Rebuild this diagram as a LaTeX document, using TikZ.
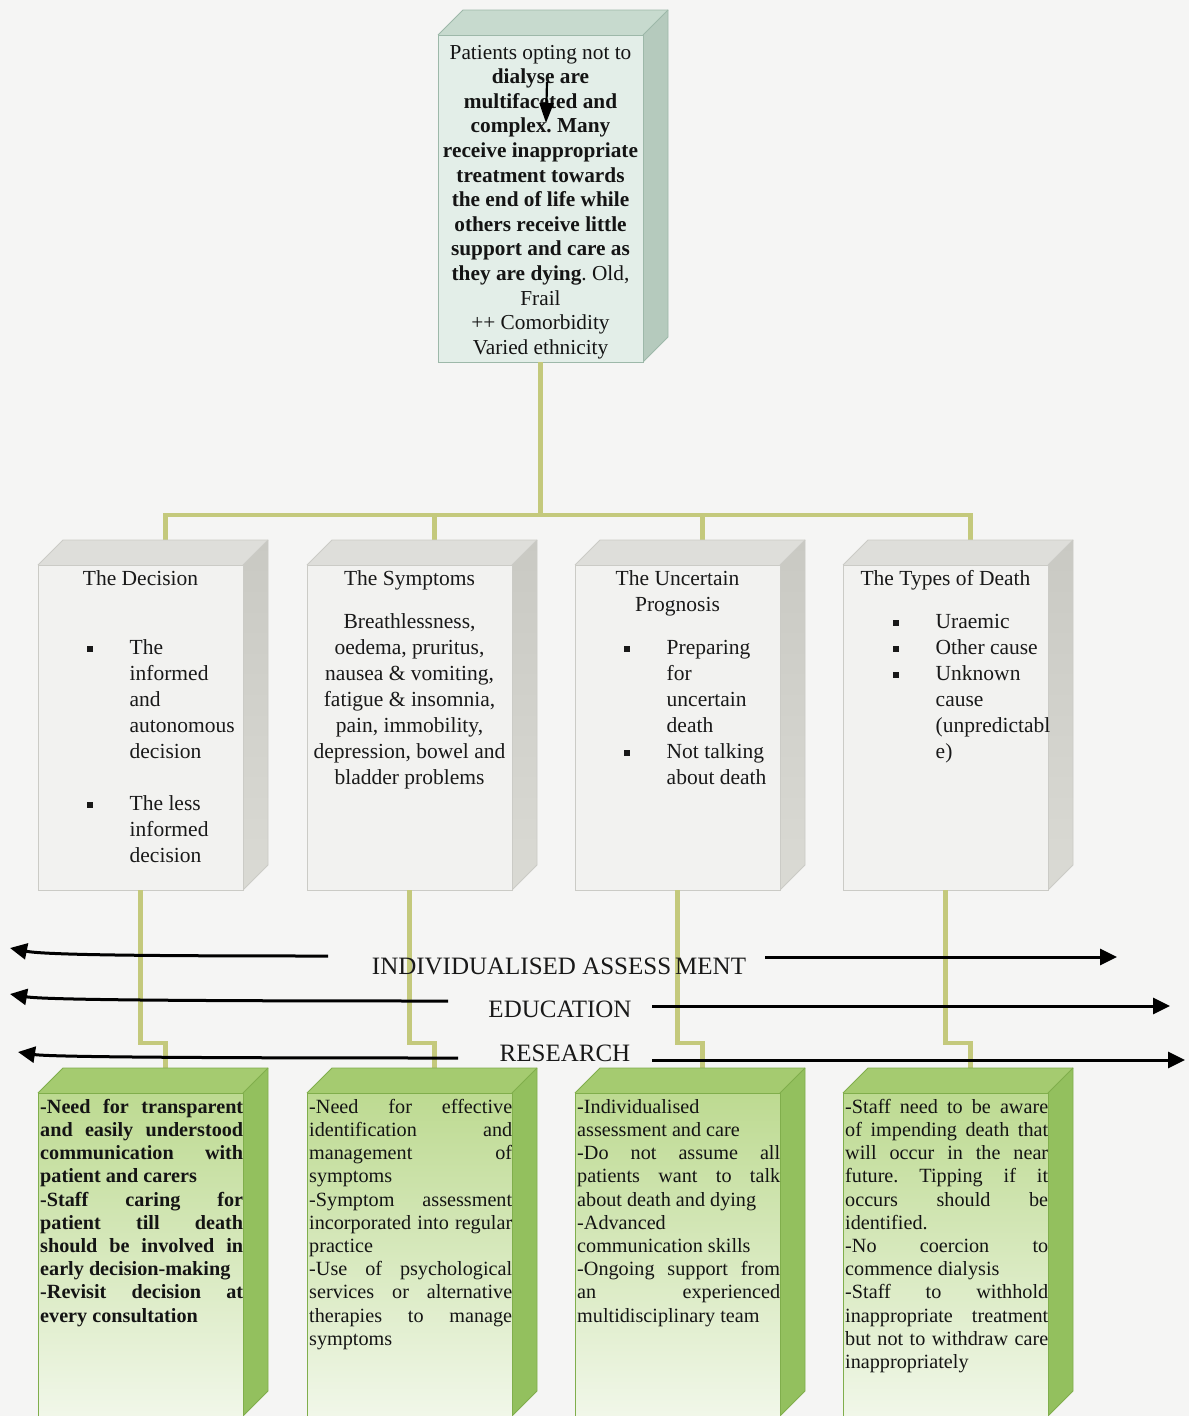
\documentclass[tikz,border=0pt]{standalone}
\usepackage{fontspec}
\setmainfont{Liberation Serif}
\usetikzlibrary{arrows.meta,calc}
\frenchspacing

\definecolor{bg}{HTML}{F5F5F4}
\definecolor{olive}{HTML}{C4C97C}
% mint (top box)
\definecolor{mntfront}{HTML}{E3EEE8}
\definecolor{mnttop}{HTML}{C7DACE}
\definecolor{mntside}{HTML}{B5CABD}
\definecolor{mntedge}{HTML}{9DB8A9}
% grey (middle row)
\definecolor{gryfront}{HTML}{F2F2F0}
\definecolor{grytop}{HTML}{DEDEDA}
\definecolor{grysideA}{HTML}{C9C9C3}
\definecolor{grysideB}{HTML}{DADAD4}
\definecolor{gryedge}{HTML}{CBCBC6}
% green (bottom row)
\definecolor{grnfrontA}{HTML}{BDDA91}
\definecolor{grnfrontB}{HTML}{F1F7E9}
\definecolor{grntop}{HTML}{A5CB70}
\definecolor{grnside}{HTML}{93C05E}
\definecolor{grnedge}{HTML}{80AE4C}

% a box drawn as a slab: #1 name, #2 colour family, #3 left, #4 top, #5 right, #6 bottom
\newcommand\cuboid[6]{%
  \path[#2side] (#5,#4) -- (#5+25,#4-25) -- (#5+25,#6-25) -- (#5,#6) -- cycle;
  \path[#2top] (#3,#4) -- (#3+25,#4-25) -- (#5+25,#4-25) -- (#5,#4) -- cycle;
  \draw[#2edge] (#3,#4) -- (#3+25,#4-25) -- (#5+25,#4-25) -- (#5+25,#6-25) -- (#5,#6);
  \draw[#2edge] (#5,#4) -- (#5+25,#4-25);
  \node[#2front, anchor=north west, minimum width={#5-#3}, minimum height={#6-#4}] (#1) at (#3,#4) {};
}
\newcommand\blt{\makebox[42.5pt][l]{\rule[2pt]{5.5pt}{6pt}}}
\newcommand\J[1]{\makebox[203pt][s]{#1}}

\begin{document}
\begin{tikzpicture}[x=1pt,y=-1pt,
  mntside/.style={fill=mntside},
  mnttop/.style={fill=mnttop},
  mntedge/.style={draw=mntedge,line width=0.8pt},
  mntfront/.style={fill=mntfront,draw=mntedge,line width=0.8pt,inner sep=0,outer sep=0},
  gryside/.style={top color=grysideA,bottom color=grysideB},
  grytop/.style={fill=grytop},
  gryedge/.style={draw=gryedge,line width=0.8pt},
  gryfront/.style={fill=gryfront,draw=gryedge,line width=0.8pt,inner sep=0,outer sep=0},
  grnside/.style={fill=grnside},
  grntop/.style={fill=grntop},
  grnedge/.style={draw=grnedge,line width=0.8pt},
  grnfront/.style={top color=grnfrontA,bottom color=grnfrontB,draw=grnedge,line width=0.8pt,inner sep=0,outer sep=0},
  conn/.style={draw=olive,line width=4.5pt},
  arr/.style={line width=3pt,-{Triangle[length=17pt,width=16pt]}},
  toptxt/.style={font=\fontsize{21.3}{24.58}\selectfont,inner sep=0,anchor=north,text=black!92},
  midtxt/.style={font=\fontsize{21.5}{26}\selectfont,inner sep=0,anchor=north,text=black!90},
  btmtxt/.style={font=\fontsize{20.2}{23.2}\selectfont,inner sep=0,anchor=north west,text=black!92},
  lab/.style={font=\fontsize{25}{30}\selectfont,inner sep=0,anchor=base,text=black!90},
]
\useasboundingbox[fill=bg] (0,0) rectangle (1189,1416);

% ---- connectors (drawn first, boxes sit on them)
\coordinate (bus) at (540.5,515);
\coordinate (decT) at (165.5,540);
\coordinate (symT) at (434.5,540);
\coordinate (uncT) at (702.5,540);
\coordinate (typT) at (970.5,540);
\coordinate (gdecT) at (165.5,1068);
\coordinate (gsymT) at (434.5,1068);
\coordinate (guncT) at (702.5,1068);
\coordinate (gtypT) at (970.5,1068);

% ---- top box
\cuboid{top}{mnt}{438}{35}{643}{362}
\node[toptxt] (toptext) at (540.5,41.8) {\begin{tabular}{@{}c@{}}
Patients opting not to\\
\textbf{dialyse are}\\
\textbf{multifaceted and}\\
\textbf{complex. Many}\\
\textbf{receive inappropriate}\\
\textbf{treatment towards}\\
\textbf{the end of life while}\\
\textbf{others receive little}\\
\textbf{support and care as}\\
\textbf{they are dying}. Old,\\
Frail\\
++ Comorbidity\\
Varied ethnicity
\end{tabular}};
\coordinate (stubA) at (547,82);
\coordinate (stubB) at (546,123);
\draw[line width=2.2pt,-{Triangle[length=20pt,width=14pt]}] (stubA) -- (stubB);

\draw[conn] (top.south) -- (bus);
\draw[conn] (decT) -- ++(0,-25) -| (typT);
\draw[conn] (symT) -- ++(0,-25);
\draw[conn] (uncT) -- ++(0,-25);

% ---- middle row
\cuboid{dec}{gry}{38}{565}{243}{890}
\cuboid{sym}{gry}{307}{565}{512}{890}
\cuboid{unc}{gry}{575}{565}{780}{890}
\cuboid{typ}{gry}{843}{565}{1048}{890}

\node[midtxt] (dect) at (140.5,566.8) {\strut The Decision};
\node[midtxt,anchor=north west] (decb) at (87,635.8) {\begin{tabular}{@{}l@{}l@{}}
\blt & The\\ & informed\\ & and\\ & autonomous\\ & decision\\ \\
\blt & The less\\ & informed\\ & decision
\end{tabular}};

\node[midtxt] (symt) at (409.5,566.8) {\strut The Symptoms};
\node[midtxt] (symb) at (409.5,609.8) {\begin{tabular}{@{}c@{}}
Breathlessness,\\ oedema, pruritus,\\ nausea \& vomiting,\\ fatigue \& insomnia,\\
pain, immobility,\\ depression, bowel and\\ bladder problems
\end{tabular}};

\node[midtxt] (unct) at (677.5,566.8) {\begin{tabular}{@{}c@{}}The Uncertain\\ Prognosis\end{tabular}};
\node[midtxt,anchor=north west] (uncb) at (624,635.8) {\begin{tabular}{@{}l@{}l@{}}
\blt & Preparing\\ & for\\ & uncertain\\ & death\\
\blt & Not talking\\ & about death
\end{tabular}};

\node[midtxt] (typt) at (945.5,566.8) {\strut The Types of Death};
\node[midtxt,anchor=north west] (typb) at (893,609.8) {\begin{tabular}{@{}l@{}l@{}}
\blt & Uraemic\\ \blt & Other cause\\ \blt & Unknown\\ & cause\\ & (unpredictabl\\ & e)
\end{tabular}};

% ---- links down to the green row
\draw[conn] (dec.south) -- ++(0,153) -| (gdecT);
\draw[conn] (sym.south) -- ++(0,153) -| (gsymT);
\draw[conn] (unc.south) -- ++(0,153) -| (guncT);
\draw[conn] (typ.south) -- ++(0,153) -| (gtypT);

% ---- cross-cutting themes
\node[lab] (ia) at (559,974) {INDIVIDUALISED ASSESS\kern4pt MENT};
\node[lab] (edu) at (560,1017) {EDUCATION};
\node[lab] (res) at (565,1061) {RESEARCH};

\coordinate (iaL) at (328,956);  \coordinate (iaLt) at (10,948);
\coordinate (iaR) at (765,957);  \coordinate (iaRt) at (1117,957);
\coordinate (eduL) at (448,1001); \coordinate (eduLt) at (10,994);
\coordinate (eduR) at (652,1006); \coordinate (eduRt) at (1170,1006);
\coordinate (resL) at (458,1058); \coordinate (resLt) at (18,1052);
\coordinate (resR) at (652,1060); \coordinate (resRt) at (1185,1060);

\draw[arr] (iaL) .. controls (150,956) and (45,955) .. (iaLt);
\draw[arr] (iaR) -- (iaRt);
\draw[arr] (eduL) .. controls (200,1001) and (45,1000) .. (eduLt);
\draw[arr] (eduR) -- (eduRt);
\draw[arr] (resL) .. controls (200,1058) and (50,1057) .. (resLt);
\draw[arr] (resR) -- (resRt);

% ---- bottom row
\cuboid{gdec}{grn}{38}{1093}{243}{1416}
\cuboid{gsym}{grn}{307}{1093}{512}{1416}
\cuboid{gunc}{grn}{575}{1093}{780}{1416}
\cuboid{gtyp}{grn}{843}{1093}{1048}{1416}

\node[btmtxt,font=\fontsize{20.2}{23.2}\selectfont\bfseries] (gdecb) at (40,1096.8) {\begin{tabular}{@{}l@{}}
\J{-Need for transparent}\\ \J{and easily understood}\\ \J{communication with}\\ patient and carers\\
\J{-Staff caring for}\\ \J{patient till death}\\ \J{should be involved in}\\ early decision-making\\
\J{-Revisit decision at}\\ every consultation
\end{tabular}};

\node[btmtxt] (gsymb) at (309,1096.8) {\begin{tabular}{@{}l@{}}
\J{-Need for effective}\\ \J{identification and}\\ \J{management of}\\ symptoms\\
\J{-Symptom assessment}\\ \J{incorporated into regular}\\ practice\\
\J{-Use of psychological}\\ \J{services or alternative}\\ \J{therapies to manage}\\ symptoms
\end{tabular}};

\node[btmtxt] (guncb) at (577,1096.8) {\begin{tabular}{@{}l@{}}
-Individualised\\ assessment and care\\
\J{-Do not assume all}\\ \J{patients want to talk}\\ about death and dying\\
-Advanced\\ communication skills\\
\J{-Ongoing support from}\\ \J{an experienced}\\ multidisciplinary team
\end{tabular}};

\node[btmtxt] (gtypb) at (845,1096.8) {\begin{tabular}{@{}l@{}}
\J{-Staff need to be aware}\\ \J{of impending death that}\\ \J{will occur in the near}\\ \J{future. Tipping if it}\\
\J{occurs should be}\\ identified.\\
\J{-No coercion to}\\ commence dialysis\\
\J{-Staff to withhold}\\ \J{inappropriate treatment}\\ \J{but not to withdraw care}\\ inappropriately
\end{tabular}};
\end{tikzpicture}
\end{document}
